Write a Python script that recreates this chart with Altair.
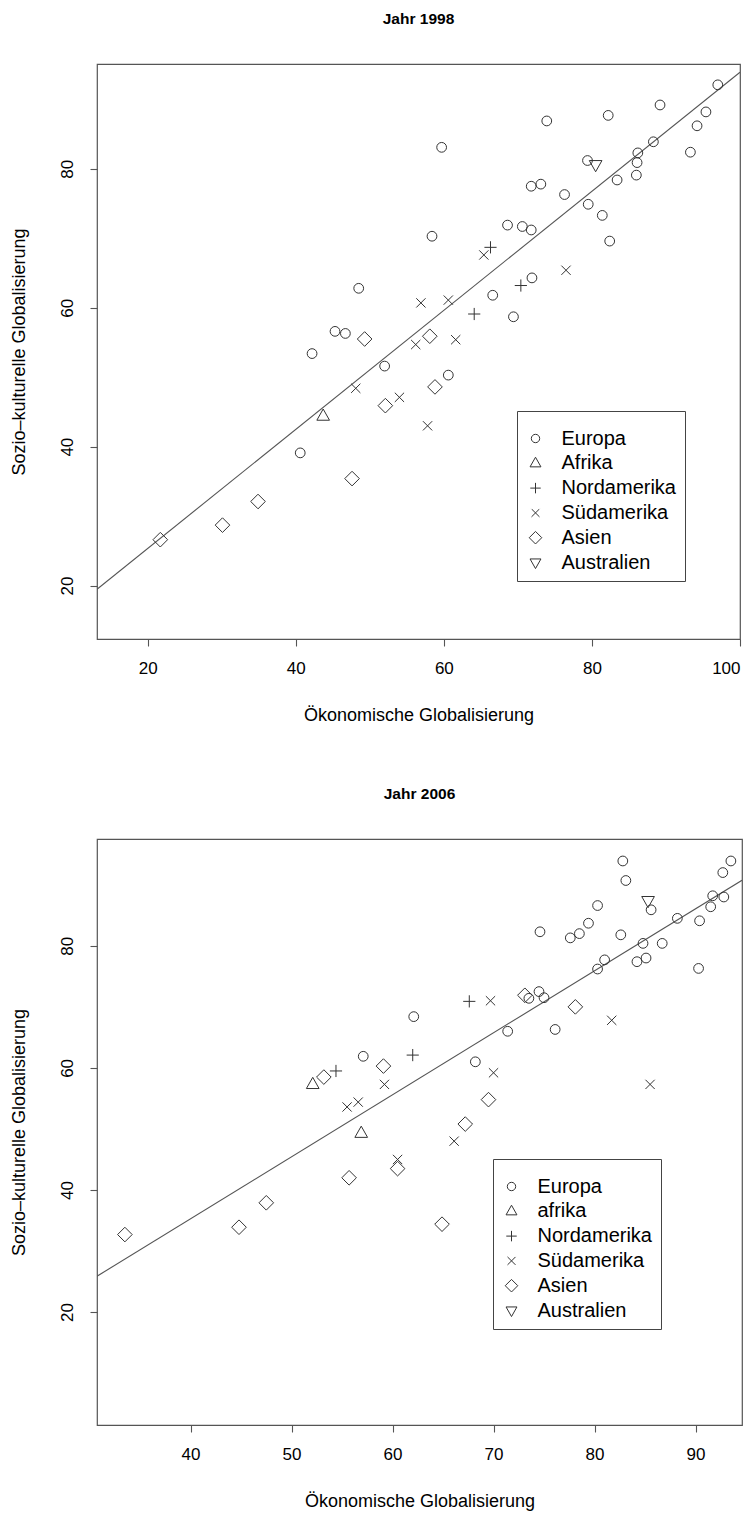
import altair as alt
import pandas as pd

# ---------------- data: Jahr 1998 ----------------
eu98_x = [97.0, 89.2, 82.2, 73.9, 59.7, 95.4, 94.2, 93.3, 88.3, 86.2, 86.1, 86.0, 79.4, 83.4,
          71.8, 73.1, 76.3, 79.5, 81.4, 82.4, 68.6, 70.6, 71.8, 58.4, 71.9, 66.6, 69.4, 48.5,
          45.3, 46.7, 52.0, 60.6, 40.6, 42.2]
eu98_y = [92.1, 89.2, 87.7, 86.9, 83.1, 88.2, 86.2, 82.4, 83.9, 82.3, 80.9, 79.1, 81.2, 78.4,
          77.5, 77.8, 76.3, 74.9, 73.3, 69.6, 71.9, 71.7, 71.2, 70.3, 64.3, 61.8, 58.7, 62.8,
          56.6, 56.3, 51.6, 50.3, 39.1, 53.4]
af98_x = [43.7]
af98_y = [44.4]
na98_x = [66.3, 70.4, 64.1]
na98_y = [68.7, 63.2, 59.1]
sa98_x = [65.4, 76.5, 56.9, 60.6, 56.2, 61.6, 48.1, 54.0, 57.8]
sa98_y = [67.6, 65.4, 60.7, 61.1, 54.7, 55.4, 48.4, 47.1, 43.0]
as98_x = [49.3, 58.1, 58.8, 52.1, 47.6, 34.9, 30.1, 21.7]
as98_y = [55.5, 55.9, 48.6, 45.9, 35.4, 32.1, 28.7, 26.6]
au98_x = [80.5]
au98_y = [80.6]

# ---------------- data: Jahr 2006 ----------------
eu06_x = [82.8, 83.1, 93.5, 92.7, 91.7, 92.8, 91.5, 85.6, 90.4, 88.2, 80.3, 79.4, 78.5, 77.6,
          74.6, 82.6, 84.8, 86.7, 84.2, 85.1, 81.0, 80.3, 90.3, 73.5, 74.5, 75.0, 71.4, 76.1,
          68.2, 62.1, 57.1]
eu06_y = [93.9, 90.7, 93.9, 92.0, 88.2, 88.0, 86.4, 85.9, 84.1, 84.5, 86.6, 83.7, 82.0, 81.3,
          82.3, 81.8, 80.4, 80.4, 77.4, 78.0, 77.7, 76.2, 76.3, 71.4, 72.5, 71.5, 66.0, 66.3,
          61.0, 68.4, 61.9]
af06_x = [52.1, 56.9]
af06_y = [57.3, 49.3]
na06_x = [67.6, 62.0, 54.4]
na06_y = [70.9, 62.1, 59.5]
sa06_x = [69.7, 81.7, 70.0, 85.5, 59.2, 66.1, 55.5, 56.6, 60.5]
sa06_y = [71.0, 67.8, 59.2, 57.3, 57.3, 48.0, 53.6, 54.4, 45.0]
as06_x = [73.1, 78.1, 69.5, 67.2, 59.1, 53.2, 55.7, 60.5, 33.5, 44.8, 47.5, 64.9]
as06_y = [71.9, 70.0, 54.8, 50.8, 60.3, 58.5, 42.0, 43.5, 32.7, 33.9, 37.9, 34.4]
au06_x = [85.3]
au06_y = [87.4]

labels98 = ["Europa", "Afrika", "Nordamerika", "Südamerika", "Asien", "Australien"]
labels06 = ["Europa", "afrika", "Nordamerika", "Südamerika", "Asien", "Australien"]

xticks98 = [20, 40, 60, 80, 100]
xticks06 = [40, 50, 60, 70, 80, 90]
yticks = [20, 40, 60, 80]

xdom98 = [13.15, 100.0]
ydom98 = [12.3, 95.1]
xdom06 = [30.74, 94.6]
ydom06 = [1.5, 97.5]

X_TITLE = "Ökonomische Globalisierung"
Y_TITLE = "Sozio–kulturelle Globalisierung"

# symbol shapes (R pch 1,2,3,4,5,6)
SHAPES = [
    "circle",
    "M-1.3,0.85L1.3,0.85L0,-1.45Z",
    "M-1.25,0L1.25,0M0,-1.25L0,1.25",
    "M-0.95,-0.95L0.95,0.95M-0.95,0.95L0.95,-0.95",
    "M0,-1.5L1.5,0L0,1.5L-1.5,0Z",
    "M-1.3,-0.85L1.3,-0.85L0,1.45Z",
]

FONT = "Liberation Sans"
INK = "#333333"


def build_df(groups, labels):
    rows = []
    for (xs, ys), lab in zip(groups, labels):
        for x, y in zip(xs, ys):
            rows.append({"x": x, "y": y, "region": lab})
    return pd.DataFrame(rows)


df98 = build_df([(eu98_x, eu98_y), (af98_x, af98_y), (na98_x, na98_y),
                 (sa98_x, sa98_y), (as98_x, as98_y), (au98_x, au98_y)], labels98)
df06 = build_df([(eu06_x, eu06_y), (af06_x, af06_y), (na06_x, na06_y),
                 (sa06_x, sa06_y), (as06_x, as06_y), (au06_x, au06_y)], labels06)


def panel(df, labels, xdom, ydom, xticks, w, h, title, lx, ly):
    xenc = alt.X("x:Q", scale=alt.Scale(domain=xdom, nice=False, zero=False),
                 axis=alt.Axis(values=xticks, title=X_TITLE, format="d"))
    yenc = alt.Y("y:Q", scale=alt.Scale(domain=ydom, nice=False, zero=False),
                 axis=alt.Axis(values=yticks, title=Y_TITLE, format="d",
                               labelAngle=270, labelAlign="center", labelBaseline="bottom"))
    base = alt.Chart(df)
    line = base.transform_regression("x", "y", extent=xdom).mark_line(
        color="#555555", strokeWidth=1.1, clip=True
    ).encode(x=xenc, y=yenc)
    pts = base.mark_point(filled=False, size=95, strokeWidth=1, color=INK, opacity=1).encode(
        x=xenc, y=yenc,
        shape=alt.Shape("region:N",
                        scale=alt.Scale(domain=labels, range=SHAPES),
                        legend=alt.Legend(title=" ", titleFontSize=7, titlePadding=2,
                                          orient="none", legendX=lx, legendY=ly,
                                          fillColor="white", strokeColor="#444444",
                                          padding=8.5, rowPadding=4.8, labelFontSize=20,
                                          labelFont=FONT, labelColor="black", labelOffset=16,
                                          symbolSize=70, symbolStrokeColor=INK,
                                          symbolFillColor="transparent", symbolStrokeWidth=1,
                                          symbolType="circle")),
    )
    return alt.layer(line, pts).properties(
        width=w, height=h,
        title=alt.TitleParams(title, font=FONT, fontSize=15.5, fontWeight="bold",
                              anchor="middle", frame="group", offset=37, color="black"),
    )


top = panel(df98, labels98, xdom98, ydom98, xticks98, 643, 575, "Jahr 1998", 420, 347)
bottom = panel(df06, labels06, xdom06, ydom06, xticks06, 645, 586, "Jahr 2006", 396, 320)

chart = alt.vconcat(top, bottom, spacing=60).resolve_scale(
    x="independent", y="independent", shape="independent"
).resolve_legend(shape="independent").properties(
    padding={"left": 1, "top": 2, "right": 0, "bottom": 2}
).configure_view(
    stroke="#555555", strokeWidth=1.2
).configure_axis(
    grid=False, domain=False, ticks=True, tickSize=7, tickColor="#555555", tickWidth=1.1,
    labelFont=FONT, labelFontSize=17, labelColor="black", labelPadding=14,
    titleFont=FONT, titleFontSize=18, titleFontWeight="normal", titleColor="black",
).configure_axisX(titlePadding=30).configure_axisY(titlePadding=30)

chart.save("out.html", embed_options={"renderer": "svg", "actions": False})
